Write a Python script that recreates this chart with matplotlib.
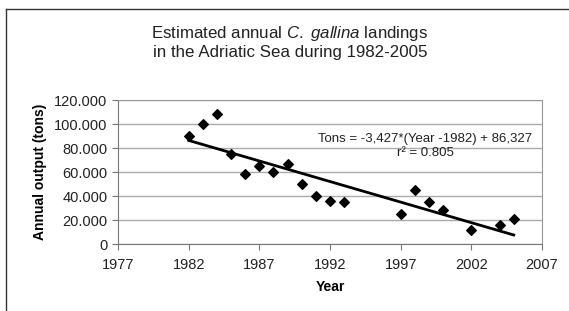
import matplotlib
matplotlib.use("Agg")
import matplotlib.pyplot as plt
from matplotlib.lines import Line2D
import numpy as np

years = [1982, 1983, 1984, 1985, 1986, 1987, 1988, 1989, 1990, 1991, 1992, 1993,
         1997, 1998, 1999, 2000, 2002, 2004, 2005]
tons = [90000, 100000, 108000, 75000, 58000, 65000, 60000, 67000, 50000, 40000,
        36000, 35000, 25000, 45000, 35000, 28000, 12000, 16000, 21000]
slope, intercept = -3427, 86327
xticks = [1977, 1982, 1987, 1992, 1997, 2002, 2007]
yticks = [0, 20000, 40000, 60000, 80000, 100000, 120000]
ylabels = ["0", "20.000", "40.000", "60.000", "80.000", "100.000", "120.000"]

plt.rcParams["font.family"] = ["Liberation Sans", "DejaVu Sans"]
plt.rcParams["mathtext.fontset"] = "custom"
plt.rcParams["mathtext.rm"] = "Liberation Sans"
plt.rcParams["mathtext.it"] = "Liberation Sans:italic"
W, H = 569, 311
fig = plt.figure(figsize=(W / 100, H / 100), dpi=100)
ax = fig.add_axes([118 / W, 1 - 244 / H, (542 - 118) / W, (244 - 100) / H])

fit_x = np.array([years[0], years[-1]])
ax.plot(fit_x, slope * (fit_x - 1982) + intercept, color="black", lw=2, zorder=3)
ax.scatter(years, tons, marker="D", s=24, color="black", zorder=4)

ax.set_xlim(1977, 2007); ax.set_ylim(0, 120000)
ax.set_xticks(xticks); ax.set_yticks(yticks); ax.set_yticklabels(ylabels)
ax.yaxis.grid(True, color="#aaaaaa", lw=1); ax.set_axisbelow(True)
for s in ["top", "right"]:
    ax.spines[s].set_color("#999999")
for s in ["left", "bottom"]:
    ax.spines[s].set_color("#777777")
ax.tick_params(direction="out", length=4, color="#777777", labelsize=10.5, colors="#222222")
ax.tick_params(axis="x", pad=6)
ax.set_xlabel("Year", fontweight="bold", fontsize=10, labelpad=6)
ax.set_ylabel("Annual output (tons)", fontweight="bold", fontsize=10, labelpad=5)

ax.text(0.725, 0.68, "Tons = -3,427*(Year -1982) + 86,327\nr² = 0.805", transform=ax.transAxes,
        ha="center", va="center", fontsize=9.5, linespacing=1.15, color="#222222")

fig.text(290 / W, 1 - 42 / H, "Estimated annual $\\it{C.}$ $\\it{gallina}$ landings\nin the Adriatic Sea during 1982-2005",
         ha="center", va="center", fontsize=12.2, linespacing=1.15, color="#222222")

fig.add_artist(Line2D([6 / W, 1], [1 - 9 / H, 1 - 9 / H], transform=fig.transFigure, color="#333333", lw=1))
fig.add_artist(Line2D([6 / W, 6 / W], [0, 1 - 9 / H], transform=fig.transFigure, color="#333333", lw=1))

fig.savefig("out.png", dpi=100)
